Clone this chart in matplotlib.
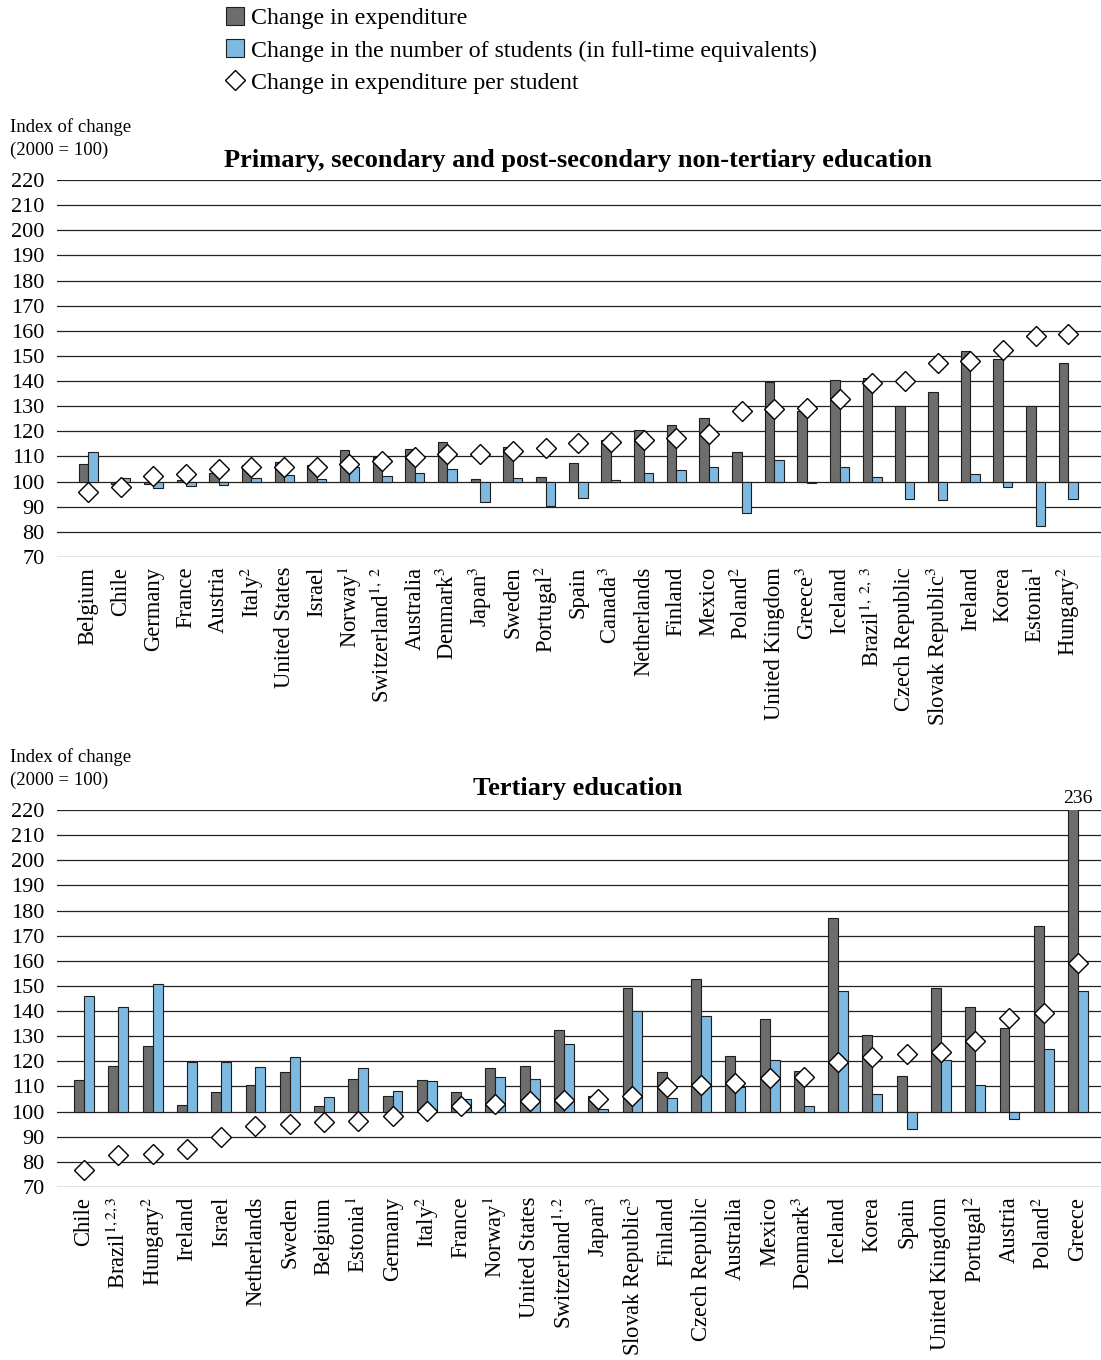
import numpy as np
import matplotlib
matplotlib.use("Agg")
import matplotlib.pyplot as plt
from matplotlib.patches import Patch
from matplotlib.lines import Line2D

plt.rcParams["font.family"] = ["Liberation Serif", "DejaVu Serif"]
plt.rcParams["mathtext.fontset"] = "stix"

# --- primary, secondary and post-secondary non-tertiary ---
prim_countries = ["Belgium", "Chile", "Germany", "France", "Austria", "Italy$^{2}$", "United States",
                  "Israel", "Norway$^{1}$", "Switzerland$^{1,\\ 2}$", "Australia", "Denmark$^{3}$",
                  "Japan$^{3}$", "Sweden", "Portugal$^{2}$", "Spain", "Canada$^{3}$", "Netherlands",
                  "Finland", "Mexico", "Poland$^{2}$", "United Kingdom", "Greece$^{3}$", "Iceland",
                  "Brazil$^{1,\\ 2,\\ 3}$", "Czech Republic", "Slovak Republic$^{3}$", "Ireland", "Korea",
                  "Estonia$^{1}$", "Hungary$^{2}$"]
prim_expend = [106.9, 99.1, 99.2, 100.8, 103.3, 106.6, 107.9, 106.5, 112.7, 109.9, 113.1, 115.7,
               101.0, 113.6, 101.9, 107.4, 116.4, 120.4, 122.5, 125.3, 111.8, 139.7, 128.0, 140.5,
               141.1, 130.0, 135.6, 151.9, 148.8, 130.0, 147.2]
prim_students = [111.6, 101.6, 97.6, 98.3, 98.7, 101.6, 102.5, 100.9, 106.0, 102.2, 103.4, 105.2,
                 91.7, 101.6, 90.1, 93.5, 100.8, 103.4, 104.8, 105.8, 87.7, 108.6, 99.5, 105.8,
                 101.9, 93.1, 92.5, 103.0, 97.9, 82.4, 92.9]
prim_per_student = [95.9, 98.0, 102.4, 103.0, 105.0, 105.8, 106.0, 106.0, 107.0, 108.2, 109.9, 110.8,
                    110.8, 112.0, 113.4, 115.2, 115.9, 116.7, 117.3, 118.8, 128.0, 128.8, 129.2, 132.9,
                    139.2, 139.9, 147.1, 147.8, 152.4, 157.9, 158.6]

# --- tertiary ---
tert_countries = ["Chile", "Brazil$^{1,2,3}$", "Hungary$^{2}$", "Ireland", "Israel", "Netherlands",
                  "Sweden", "Belgium", "Estonia$^{1}$", "Germany", "Italy$^{2}$", "France",
                  "Norway$^{1}$", "United States", "Switzerland$^{1,2}$", "Japan$^{3}$",
                  "Slovak Republic$^{3}$", "Finland", "Czech Republic", "Australia", "Mexico",
                  "Denmark$^{3}$", "Iceland", "Korea", "Spain", "United Kingdom", "Portugal$^{2}$",
                  "Austria", "Poland$^{2}$", "Greece"]
tert_expend = [112.5, 118.0, 126.0, 102.5, 107.8, 110.6, 115.6, 102.1, 112.9, 106.1, 112.5, 107.6,
               117.5, 118.0, 132.5, 106.3, 149.3, 115.6, 152.9, 122.2, 137.0, 116.3, 177.0, 130.3,
               114.0, 149.3, 141.8, 133.3, 173.8, 236.0]
tert_students = [145.8, 141.8, 150.6, 119.9, 119.6, 117.6, 121.6, 105.8, 117.2, 108.0, 112.1, 104.9,
                 113.8, 112.9, 126.9, 100.9, 140.1, 105.3, 138.2, 109.8, 120.6, 102.1, 147.9, 107.0,
                 93.0, 120.5, 110.7, 97.2, 125.0, 147.9]
tert_per_student = [76.8, 82.8, 83.3, 85.3, 90.0, 94.2, 95.2, 95.9, 96.3, 98.3, 100.3, 102.3, 103.2,
                    104.2, 104.6, 105.0, 106.3, 109.9, 110.6, 111.5, 113.4, 113.6, 119.7, 121.8,
                    122.8, 123.9, 128.2, 137.3, 139.3, 159.1]

DARK = "#6d6d6d"
BLUE = "#7db9e0"
EDGE = "#1e1e1e"
W = 0.29
FIG_W, FIG_H = 1101, 1360


def panel(ax, names, expend, students, per_student, xlim):
    x = np.arange(len(names))
    e = np.array(expend)
    s = np.array(students)
    ax.bar(x - W / 2, e - 100, bottom=100, width=W, color=DARK, edgecolor=EDGE, lw=0.8, zorder=2)
    ax.bar(x + W / 2, s - 100, bottom=100, width=W, color=BLUE, edgecolor=EDGE, lw=0.8, zorder=2)
    ax.plot(x, per_student, ls="none", marker="D", ms=10, mfc="white", mec="black", mew=1.0, zorder=3)
    ax.set_ylim(70, 220)
    ax.set_xlim(*xlim)
    ax.set_yticks(range(70, 221, 10))
    ax.grid(axis="y", color="#222222", lw=0.9, zorder=0)
    ax.set_axisbelow(True)
    for sp in ax.spines.values():
        sp.set_visible(False)
    ax.tick_params(axis="both", length=0)
    ax.tick_params(axis="y", pad=9, labelsize=16)
    ax.tick_params(axis="x", pad=7)
    ax.set_xticks(x)
    ax.set_xticklabels(names, rotation=90, fontsize=16.3, va="top", ha="center")


fig = plt.figure(figsize=(FIG_W / 100, FIG_H / 100), dpi=100)

# top axes: pixel 57..1101, y 180..557
ax1 = fig.add_axes([57 / FIG_W, 1 - 557 / FIG_H, (FIG_W - 57) / FIG_W, (557 - 180) / FIG_H])
panel(ax1, prim_countries, prim_expend, prim_students, prim_per_student, (-0.95, 31.0))

ax2 = fig.add_axes([57 / FIG_W, 1 - 1187 / FIG_H, (FIG_W - 57) / FIG_W, (1187 - 810) / FIG_H])
panel(ax2, tert_countries, tert_expend, tert_students, tert_per_student, (-0.79, 29.67))
ax2.text(len(tert_countries) - 1, 221, "236", ha="center", va="bottom", fontsize=14)

# titles and axis notes
fig.text(578 / FIG_W, 1 - 161 / FIG_H, "Primary, secondary and post-secondary non-tertiary education",
         ha="center", va="center", fontsize=19, fontweight="bold")
fig.text(578 / FIG_W, 1 - 788 / FIG_H, "Tertiary education",
         ha="center", va="center", fontsize=19, fontweight="bold")
for ytop in (118, 748):
    fig.text(10 / FIG_W, 1 - ytop / FIG_H, "Index of change\n(2000 = 100)", ha="left", va="top",
             fontsize=13.5, linespacing=1.45)

handles = [
    Patch(facecolor=DARK, edgecolor=EDGE, lw=0.8),
    Patch(facecolor=BLUE, edgecolor=EDGE, lw=0.8),
    Line2D([], [], ls="none", marker="D", ms=10, mfc="white", mec="black", mew=1.0),
]
labels = ["Change in expenditure",
          "Change in the number of students (in full-time equivalents)",
          "Change in expenditure per student"]
fig.legend(handles, labels, loc="upper left", bbox_to_anchor=(212 / FIG_W, 1 + 7 / FIG_H),
           frameon=False, fontsize=17.2, handlelength=0.75, handleheight=0.75, handletextpad=0.3,
           labelspacing=0.42, borderaxespad=0.2)

fig.savefig("out.png", dpi=100)
